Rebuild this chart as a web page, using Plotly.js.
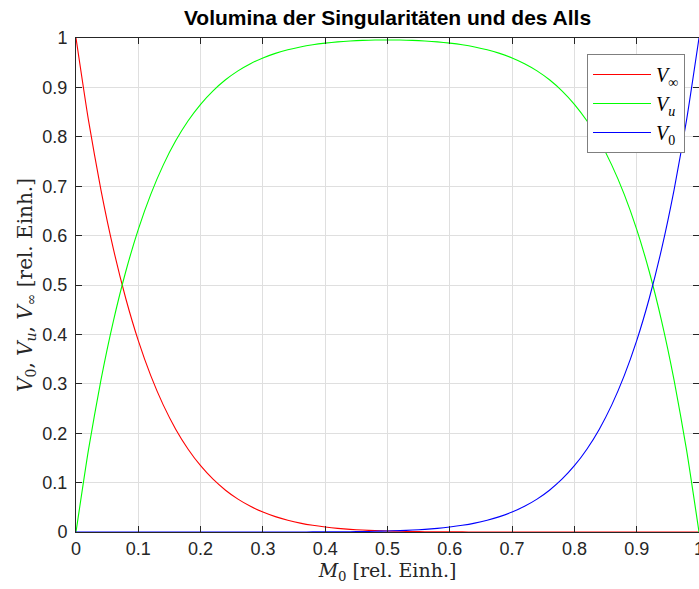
<!DOCTYPE html>
<html>
<head>
<meta charset="utf-8">
<script src="https://cdn.plot.ly/plotly-3.0.1.min.js"></script>
<style>html,body{margin:0;padding:0;background:#fff;}#chart{width:699px;height:589px;}</style>
</head>
<body>
<div id="chart"></div>
<script>
// M0 sample positions [rel. Einh.]
const m0 = [0,0.02,0.04,0.06,0.08,0.10,0.12,0.14,0.16,0.18,0.20,0.22,0.24,0.26,0.28,0.30,0.32,0.34,0.36,0.38,0.40,0.42,0.44,0.46,0.48,0.50,
            0.52,0.54,0.56,0.58,0.60,0.62,0.64,0.66,0.68,0.70,0.72,0.74,0.76,0.78,0.80,0.82,0.84,0.86,0.88,0.90,0.92,0.94,0.96,0.98,1.00];
// V_inf (red)
const vInf = [1,0.8337,0.6925,0.5730,0.4722,0.3874,0.3165,0.2573,0.2082,0.1676,0.1342,0.1069,0.0846,0.0665,0.0520,0.0404,0.0311,0.0238,0.0180,0.0135,0.0101,0.0074,0.0054,0.0039,0.0028,0.0020,
              0.0014,0.0009,0.0006,0.0004,0.0003,0.0002,0.0001,0.0001,0,0,0,0,0,0,0,0,0,0,0,0,0,0,0,0,0];
// V_u (green)
const vU = [0,0.1663,0.3075,0.4270,0.5278,0.6126,0.6835,0.7427,0.7918,0.8324,0.8658,0.8931,0.9154,0.9335,0.9480,0.9596,0.9689,0.9762,0.9819,0.9863,0.9896,0.9922,0.9940,0.9952,0.9959,0.9961,
            0.9959,0.9952,0.9940,0.9922,0.9896,0.9863,0.9819,0.9762,0.9689,0.9596,0.9480,0.9335,0.9154,0.8931,0.8658,0.8324,0.7918,0.7427,0.6835,0.6126,0.5278,0.4270,0.3075,0.1663,0];
// V_0 (blue)
const v0 = [0,0,0,0,0,0,0,0,0,0,0,0,0,0,0,0,0,0.0001,0.0001,0.0002,0.0003,0.0004,0.0006,0.0009,0.0014,0.0020,
            0.0028,0.0039,0.0054,0.0074,0.0101,0.0135,0.0180,0.0238,0.0311,0.0404,0.0520,0.0665,0.0846,0.1069,0.1342,0.1676,0.2082,0.2573,0.3165,0.3874,0.4722,0.5730,0.6925,0.8337,1];

const tickVals = [0,0.1,0.2,0.3,0.4,0.5,0.6,0.7,0.8,0.9,1];
const tickText = ['0','0.1','0.2','0.3','0.4','0.5','0.6','0.7','0.8','0.9','1'];

const names = ['<i>V</i><sub>∞</sub>','<i>V</i><sub><i>u</i></sub>','<i>V</i><sub>0</sub>'];
const colors = ['#ff0000','#00ff00','#0000ff'];
const series = [vInf, vU, v0];

const traces = series.map((ys, i) => ({
  x: m0, y: ys, type: 'scatter', mode: 'lines', name: names[i],
  line: {color: colors[i], width: 1.1, shape: 'spline', smoothing: 0.6}
}));

const tickFont = {family: 'Liberation Sans, Arial, sans-serif', size: 18, color: '#262626'};

const axisCommon = {
  range: [0,1], tickvals: tickVals, ticktext: tickText,
  showgrid: true, gridcolor: '#dfdfdf', gridwidth: 1,
  zeroline: false, showline: true, linecolor: '#262626', linewidth: 1,
  mirror: 'ticks', ticks: 'inside', ticklen: 6, tickcolor: '#262626', tickwidth: 1,
  tickfont: tickFont
};

const layout = {
  width: 699, height: 589,
  margin: {l: 76, r: 0, t: 38, b: 57},
  paper_bgcolor: '#ffffff', plot_bgcolor: '#ffffff',
  title: {text: '<b>Volumina der Singularitäten und des Alls</b>',
          font: {family: 'Liberation Sans, Arial, sans-serif', size: 21, color: '#000'},
          x: 0.5, xref: 'paper', xanchor: 'center', y: 1 - 18/589, yref: 'container', yanchor: 'middle'},
  xaxis: Object.assign({}, axisCommon, {
    title: {text: '<i>M</i><sub>0</sub> [rel. Einh.]', standoff: 4,
            font: {family: 'DejaVu Serif, Liberation Serif, serif', size: 19, color: '#262626'}}
  }),
  yaxis: Object.assign({}, axisCommon, {
    ticklabelstandoff: 4,
    title: {text: '<i>V</i><sub>0</sub>, <i>V</i><sub><i>u</i></sub>, <i>V</i><sub>∞</sub> [rel. Einh.]', standoff: 4,
            font: {family: 'DejaVu Serif, Liberation Serif, serif', size: 20, color: '#262626'}}
  }),
  annotations: [{
    text: tickText[tickText.length - 1], x: tickVals[tickVals.length - 1], xref: 'x',
    y: 0, yref: 'paper', xanchor: 'center', yanchor: 'middle', yshift: -17,
    showarrow: false, font: tickFont
  }],
  showlegend: true,
  legend: {x: (685-76)/623, xanchor: 'right', y: (532-54)/494, yanchor: 'top',
           bgcolor: '#ffffff', bordercolor: '#7f7f7f', borderwidth: 1,
           itemwidth: 58, tracegroupgap: 0,
           font: {family: 'Liberation Serif, DejaVu Serif, serif', size: 20, color: '#000'}}
};

Plotly.newPlot('chart', traces, layout, {displayModeBar: false, staticPlot: true});
</script>
</body>
</html>
